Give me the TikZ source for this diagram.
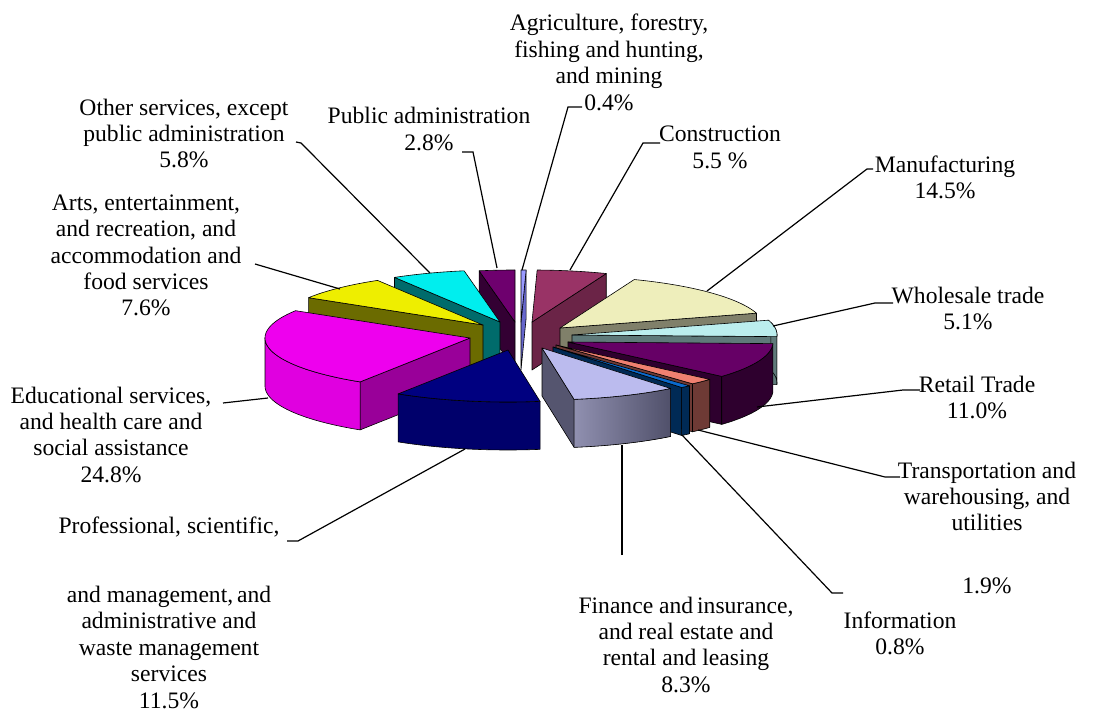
\documentclass[tikz,border=0pt]{standalone}
\usepackage{fontspec}
\setmainfont{Liberation Serif}
\definecolor{agriTop}{HTML}{9999FF}\definecolor{agriSide}{HTML}{6666CC}
\definecolor{pubTop}{HTML}{6E006E}\definecolor{pubSide}{HTML}{330033}
\definecolor{conTop}{HTML}{993366}\definecolor{conSide}{HTML}{6B2447}
\definecolor{othTop}{HTML}{00EEEE}\definecolor{othSide}{HTML}{006B6B}
\definecolor{artTop}{HTML}{EEEE00}\definecolor{artSide}{HTML}{6B6B00}
\definecolor{manTop}{HTML}{EEEEBB}\definecolor{manSide}{HTML}{80806A}
\definecolor{whoTop}{HTML}{BBEEEE}\definecolor{whoSide}{HTML}{5F7A7A}
\definecolor{eduTop}{HTML}{EE00EE}\definecolor{eduArc}{HTML}{E000E0}\definecolor{eduRad}{HTML}{990099}
\definecolor{retTop}{HTML}{660066}\definecolor{retSide}{HTML}{2E002E}
\definecolor{traTop}{HTML}{F08070}\definecolor{traSide}{HTML}{6E3A35}
\definecolor{infTop}{HTML}{0A6ACD}\definecolor{infSide}{HTML}{002A55}
\definecolor{finTop}{HTML}{BBBBEE}\definecolor{finRad}{HTML}{55556F}
\definecolor{finArcL}{HTML}{9090B0}\definecolor{finArcR}{HTML}{50506A}
\definecolor{proTop}{HTML}{000080}\definecolor{proSide}{HTML}{00006B}
\tikzset{
  face/.style={draw=black, line width=0.45pt, line join=round},
  lbl/.style={align=center, inner sep=0pt, anchor=north, font=\fontsize{17.7}{19.8}\selectfont},
  leader/.style={draw=black, line width=0.9pt},
}
% apex x, apex y, angle1, angle2, options
\newcommand\TopFace[5]{\filldraw[face,#5] (#1,#2) -- plot[domain=#3:#4, samples=60] ({#1+205*sin(\x)},{#2-52*cos(\x)}) -- cycle;}
% apex x, apex y, angle, options
\newcommand\RadFace[4]{\filldraw[face,#4] (#1,#2) -- ({#1+205*sin(#3)},{#2-52*cos(#3)}) -- ({#1+205*sin(#3)},{#2+48-52*cos(#3)}) -- (#1,#2+48) -- cycle;}
% apex x, apex y, from, to, options
\newcommand\ArcFace[5]{\filldraw[face,#5] plot[domain=#3:#4, samples=40] ({#1+205*sin(\x)},{#2-52*cos(\x)}) -- plot[domain=#4:#3, samples=40] ({#1+205*sin(\x)},{#2+48-52*cos(\x)}) -- cycle;}
\begin{document}
\begin{tikzpicture}[x=0.75pt,y=-0.75pt]
\useasboundingbox (0,0) rectangle (1095,712);
% Agriculture
\RadFace{521}{322}{1.44}{fill=agriSide}
\TopFace{521}{322}{0}{1.44}{fill=agriTop}
% Public administration
\RadFace{515}{322}{349.92}{fill=pubSide}
\TopFace{515}{322}{349.92}{360}{fill=pubTop}
% Construction
\RadFace{532}{322}{21.24}{fill=conSide}
\TopFace{532}{322}{1.44}{21.24}{fill=conTop}
% Other services
\RadFace{500}{322}{329.04}{fill=othSide}
\TopFace{500}{322}{329.04}{349.92}{fill=othTop}
% Arts
\RadFace{483}{325}{301.68}{fill=artSide}
\TopFace{483}{325}{301.68}{329.04}{fill=artTop}
% Manufacturing
\RadFace{560}{328}{73.44}{fill=manSide}
\TopFace{560}{328}{21.24}{73.44}{fill=manTop}
% Wholesale
\RadFace{572}{335}{91.8}{fill=whoSide}
\ArcFace{572}{335}{76}{91.8}{fill=whoSide}
\TopFace{572}{335}{73.44}{91.8}{fill=whoTop}
% Educational
\RadFace{470}{338}{212.4}{fill=eduRad}
\ArcFace{470}{338}{212.4}{270}{fill=eduArc}
\TopFace{470}{338}{212.4}{301.68}{fill=eduTop}
% Retail
\RadFace{568}{342}{131.4}{fill=retSide}
\ArcFace{568}{342}{91.8}{131.4}{fill=retSide}
\TopFace{568}{342}{91.8}{131.4}{fill=retTop}
% Transportation
\RadFace{556}{345}{138.24}{fill=traSide}
\ArcFace{556}{345}{131.4}{138.24}{fill=traSide}
\TopFace{556}{345}{131.4}{138.24}{fill=traTop}
% Information
\RadFace{553}{347}{141.12}{fill=infSide}
\ArcFace{553}{347}{138.24}{141.12}{fill=infSide}
\TopFace{553}{347}{138.24}{141.12}{fill=infTop}
% Finance
\RadFace{542}{348}{171}{fill=finRad}
\ArcFace{542}{348}{141.12}{171}{left color=finArcL,right color=finArcR}
\TopFace{542}{348}{141.12}{171}{fill=finTop}
% Professional
\ArcFace{508}{350}{171}{212.4}{fill=proSide}
\TopFace{508}{350}{171}{212.4}{fill=proTop}

% labels
\node[lbl] (agri) at (609,14) {Agriculture, forestry,\\fishing and hunting,\\and mining\\0.4\%};
\node[lbl] (cons) at (720,126) {Construction\\5.5 \%};
\node[lbl] (manu) at (945,155.5) {Manufacturing\\14.5\%};
\node[lbl] (whol) at (968,286.5) {Wholesale trade\\5.1\%};
\node[lbl] (reta) at (977,375.5) {Retail Trade\\11.0\%};
\node[lbl] (tran) at (987,461.5) {Transportation and\\warehousing, and\\utilities\\[27pt]1.9\%};
\node[lbl] (info) at (900,611.5) {Information\\0.8\%};
\node[lbl] (fina) at (686,596.5) {Finance and\,insurance,\\and real estate and\\rental and leasing\\8.3\%};
\node[lbl] (prof) at (169,516.5) {Professional, scientific,\\[32pt]and management,\,and\\administrative and\\waste management\\services\\11.5\%};
\node[lbl] (educ) at (111,386.5) {Educational services,\\and health care and\\social assistance\\24.8\%};
\node[lbl] (arts) at (146,194.5) {Arts, entertainment,\\and recreation, and\\accommodation and\\food services\\7.6\%};
\node[lbl] (othe) at (184,98.5) {Other services, except\\public administration\\5.8\%};
\node[lbl] (publ) at (429,107) {Public administration\\2.8\%};

% leader end points
\coordinate (agriA) at (582,107); \coordinate (agriB) at (568,107); \coordinate (agriP) at (522,270);
\coordinate (consA) at (660,143); \coordinate (consB) at (643,143); \coordinate (consP) at (570,270);
\coordinate (manuA) at (873,169); \coordinate (manuB) at (867,169); \coordinate (manuP) at (707,291);
\coordinate (wholA) at (893,303); \coordinate (wholB) at (875,303); \coordinate (wholP) at (773,326);
\coordinate (retaA) at (920,390); \coordinate (retaB) at (903,390); \coordinate (retaP) at (757,407);
\coordinate (tranA) at (900,477); \coordinate (tranB) at (885,477); \coordinate (tranP) at (698,430);
\coordinate (infoA) at (843,593); \coordinate (infoB) at (832,593); \coordinate (infoP) at (682,435);
\coordinate (finaB) at (622,555); \coordinate (finaP) at (622,445);
\coordinate (profA) at (287,541); \coordinate (profB) at (298,541); \coordinate (profP) at (465,449);
\coordinate (educB) at (223,403); \coordinate (educP) at (268,398);
\coordinate (artsB) at (255,264); \coordinate (artsP) at (340,289);
\coordinate (otheA) at (296,142); \coordinate (otheB) at (301,143); \coordinate (otheP) at (430,273);
\coordinate (publA) at (462,152); \coordinate (publB) at (473,152); \coordinate (publP) at (497,268);

\draw[leader] (agriA) -- (agriB) -- (agriP);
\draw[leader] (consA) -- (consB) -- (consP);
\draw[leader] (manuA) -- (manuB) -- (manuP);
\draw[leader] (wholA) -- (wholB) -- (wholP);
\draw[leader] (retaA) -- (retaB) -- (retaP);
\draw[leader] (tranA) -- (tranB) -- (tranP);
\draw[leader] (infoA) -- (infoB) -- (infoP);
\draw[leader] (finaB) -- (finaP);
\draw[leader] (profA) -- (profB) -- (profP);
\draw[leader] (educB) -- (educP);
\draw[leader] (artsB) -- (artsP);
\draw[leader] (otheA) -- (otheB) -- (otheP);
\draw[leader] (publA) -- (publB) -- (publP);
\end{tikzpicture}
\end{document}
